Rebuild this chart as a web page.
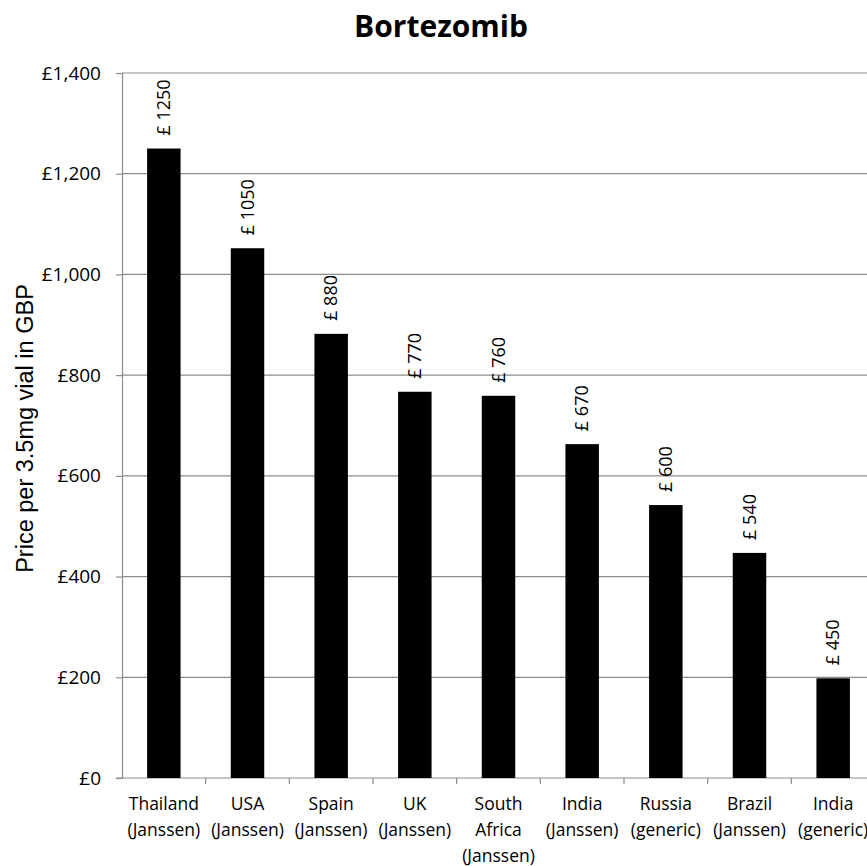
<!DOCTYPE html>
<html>
<head>
<meta charset="utf-8">
<script src="https://cdn.jsdelivr.net/npm/d3@7"></script>
<style>
  body { margin: 0; background: #fff; }
  svg { display: block; }
</style>
</head>
<body>
<div id="chart"></div>
<script>
// categories, one entry per line of the axis label
const categories = [
  ['Thailand', '(Janssen)'],
  ['USA', '(Janssen)'],
  ['Spain', '(Janssen)'],
  ['UK', '(Janssen)'],
  ['South', 'Africa', '(Janssen)'],
  ['India', '(Janssen)'],
  ['Russia', '(generic)'],
  ['Brazil', '(Janssen)'],
  ['India', '(generic)']
];
// bar heights as drawn
const prices = [1250, 1052, 882, 767, 759, 663, 542, 447, 198];
// labels printed above the bars
const priceLabels = ['£ 1250', '£ 1050', '£ 880', '£ 770', '£ 760', '£ 670', '£ 600', '£ 540', '£ 450'];
const yTicks = [0, 200, 400, 600, 800, 1000, 1200, 1400];

const width = 867;
const height = 866;
const margin = { top: 73, right: -8, bottom: 88, left: 122 };

const svg = d3
  .select('#chart')
  .append('svg')
  .attr('width', width)
  .attr('height', height);

const x = d3
  .scaleBand()
  .domain(d3.range(categories.length))
  .range([margin.left, width - margin.right])
  .paddingInner(0.6)
  .paddingOuter(0.3);

const y = d3
  .scaleLinear()
  .domain([0, 1400])
  .range([height - margin.bottom, margin.top]);

// Title
svg
  .append('text')
  .attr('x', 441)
  .attr('y', 37)
  .attr('text-anchor', 'middle')
  .attr('font-family', 'Open Sans')
  .attr('font-weight', 'bold')
  .attr('font-size', '30px')
  .text('Bortezomib');

// Gridlines
svg
  .append('g')
  .selectAll('line')
  .data(yTicks.slice(1))
  .enter()
  .append('line')
  .attr('x1', margin.left)
  .attr('x2', width)
  .attr('y1', d => y(d))
  .attr('y2', d => y(d))
  .attr('stroke', '#8c8c8c')
  .attr('stroke-width', 1.2);

// Y axis
const yAxis = svg
  .append('g')
  .attr('transform', `translate(${margin.left},0)`)
  .call(
    d3
      .axisLeft(y)
      .tickValues(yTicks)
      .tickSize(6)
      .tickPadding(15)
      .tickFormat(d => `£${d3.format(',')(d)}`)
  );
yAxis.select('.domain').attr('stroke', '#8c8c8c').attr('stroke-width', 1.2);
yAxis.selectAll('.tick line').attr('stroke', '#8c8c8c').attr('stroke-width', 1.2);
yAxis
  .selectAll('.tick text')
  .attr('font-family', 'Open Sans')
  .attr('font-size', '19px')
  .attr('fill', '#000');

// Y axis title
svg
  .append('text')
  .attr('transform', `translate(33, ${(margin.top + height - margin.bottom) / 2 + 3})rotate(-90)`)
  .attr('text-anchor', 'middle')
  .attr('font-family', 'Liberation Sans')
  .attr('font-size', '23.5px')
  .text('Price per 3.5mg vial in GBP');

// X axis baseline and ticks between categories
const y0 = y(0);
svg
  .append('line')
  .attr('x1', margin.left - 6)
  .attr('x2', width)
  .attr('y1', y0)
  .attr('y2', y0)
  .attr('stroke', '#8c8c8c')
  .attr('stroke-width', 1.2);

const step = x.step();
svg
  .append('g')
  .selectAll('line')
  .data(d3.range(categories.length))
  .enter()
  .append('line')
  .attr('x1', i => x(i) + x.bandwidth() / 2 + step / 2)
  .attr('x2', i => x(i) + x.bandwidth() / 2 + step / 2)
  .attr('y1', y0)
  .attr('y2', y0 + 6)
  .attr('stroke', '#8c8c8c')
  .attr('stroke-width', 1.2);

// Bars
svg
  .append('g')
  .selectAll('rect')
  .data(prices)
  .enter()
  .append('rect')
  .attr('x', (d, i) => x(i))
  .attr('width', x.bandwidth())
  .attr('y', d => y(d))
  .attr('height', d => y0 - y(d))
  .attr('fill', '#000');

// Value labels
svg
  .append('g')
  .selectAll('text')
  .data(prices)
  .enter()
  .append('text')
  .attr('transform', (d, i) => `translate(${x(i) + x.bandwidth() / 2 + 6}, ${y(d) - 13})rotate(-90)`)
  .attr('text-anchor', 'start')
  .attr('font-family', 'Open Sans')
  .attr('font-size', '18px')
  .text((d, i) => priceLabels[i]);

// Category labels
const catText = svg
  .append('g')
  .selectAll('text')
  .data(categories)
  .enter()
  .append('text')
  .attr('text-anchor', 'middle')
  .attr('font-family', 'Open Sans')
  .attr('font-size', '17.5px')
  .attr('x', (d, i) => x(i) + x.bandwidth() / 2);

catText
  .selectAll('tspan')
  .data((d, i) => d.map(line => ({ line, i })))
  .enter()
  .append('tspan')
  .attr('x', d => x(d.i) + x.bandwidth() / 2)
  .attr('y', (d, j) => y0 + 32 + j * 26)
  .text(d => d.line);
</script>
</body>
</html>
